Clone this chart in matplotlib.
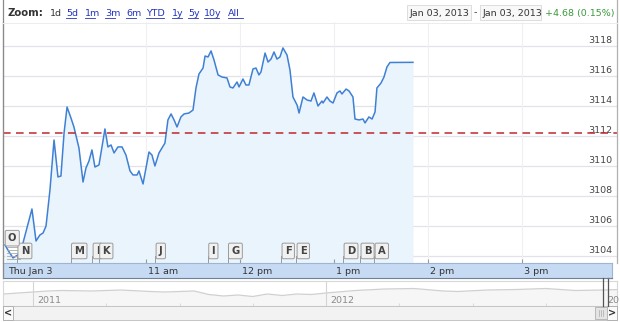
"""
Intraday index chart, Thu Jan 3 2013 (Google-Finance style widget).
"""
import matplotlib.pyplot as plt
from matplotlib.patches import Rectangle
import numpy as np

# ---------- data ----------
OPEN_HOUR = 9.5
minutes = [0, 2.6, 5.1, 8.3, 11.5, 17.2, 19.8, 22.3, 24.3, 26.2, 28.7, 31.3, 33.8,
           35.7, 37.7, 39.6, 42.1, 44.0, 47.2, 49.8, 51.7, 53.6, 55.5, 57.4, 60.0,
           63.8, 65.7, 67.7, 69.6, 72.1, 74.7, 77.2, 79.8, 81.7, 84.3, 85.5, 88.1,
           91.9, 93.8, 95.7, 98.3, 102.1, 104.0, 106.0, 107.9, 109.8, 112.3, 114.3,
           117.4, 120.0, 121.9, 123.8, 126.4, 127.7, 129.6, 131.5, 133.4, 136.0,
           138.5, 141.7, 143.6, 145.5, 148.1, 149.4, 151.9, 153.8, 155.7, 158.3,
           160.2, 162.1, 163.4, 166.0, 167.9, 169.8, 171.7, 173.6, 175.5, 177.4,
           180.0, 181.9, 183.8, 186.4, 187.7, 190.2, 192.8, 195.3, 197.2, 199.8,
           202.3, 203.0, 205.5, 207.4, 209.4, 211.9, 213.8, 215.1, 217.7, 219.6,
           222.1, 223.4, 226.0, 228.5, 229.8, 232.3, 234.3, 236.2, 237.4, 240.0,
           241.9, 243.8, 245.7, 260.4]
prices = [3104.73, 3104.27, 3103.87, 3104.07, 3104.87, 3107.13, 3105.00, 3105.40,
          3105.53, 3106.00, 3108.40, 3111.73, 3109.27, 3109.33, 3112.20, 3113.93,
          3113.20, 3112.60, 3111.20, 3108.93, 3109.87, 3110.33, 3111.07, 3109.93,
          3110.07, 3112.47, 3111.27, 3111.40, 3110.87, 3111.27, 3111.27, 3110.73,
          3109.67, 3109.40, 3109.40, 3109.67, 3108.80, 3110.93, 3110.73, 3110.00,
          3110.87, 3111.53, 3113.07, 3113.47, 3113.07, 3112.60, 3113.27, 3113.47,
          3113.53, 3113.73, 3115.20, 3116.13, 3116.53, 3117.33, 3117.27, 3117.67,
          3117.07, 3116.07, 3115.93, 3115.87, 3115.27, 3115.20, 3115.60, 3115.27,
          3115.80, 3115.40, 3115.40, 3116.47, 3116.53, 3116.07, 3116.27, 3117.53,
          3116.93, 3117.13, 3117.60, 3117.13, 3117.27, 3117.87, 3117.40, 3116.40,
          3114.60, 3114.07, 3113.53, 3114.60, 3114.40, 3114.33, 3114.87, 3114.00,
          3114.33, 3114.20, 3114.60, 3114.33, 3114.20, 3114.87, 3115.00, 3114.80,
          3115.13, 3115.00, 3114.60, 3113.13, 3113.07, 3113.13, 3112.87, 3113.27,
          3113.13, 3113.60, 3115.20, 3115.53, 3115.93, 3116.60, 3116.90, 3116.91]
prev_close = 3112.23

y_ticks = [3104, 3106, 3108, 3110, 3112, 3114, 3116, 3118]
hour_ticks = [11, 12, 13, 14, 15]
hour_labels = ["11 am", "12 pm", "1 pm", "2 pm", "3 pm"]

flag_letters = ["N", "M", "I", "K", "J", "I", "G", "F", "E", "D", "B", "A"]
flag_hours = [9.63, 10.20, 10.43, 10.50, 11.10, 11.66, 11.87, 12.44, 12.60,
              13.10, 13.28, 13.43]

zoom_links = ["5d", "1m", "3m", "6m", "YTD", "1y", "5y", "10y", "All"]
zoom_x = [66, 85, 105, 126, 146, 172, 188, 204, 228]

# navigator (two-year overview)
nav_years = [2010.90, 2010.95, 2011.00, 2011.05, 2011.10, 2011.20, 2011.30, 2011.40,
             2011.45, 2011.55, 2011.60, 2011.65, 2011.70, 2011.75, 2011.80, 2011.85,
             2011.90, 2011.95, 2012.00, 2012.10, 2012.20, 2012.30, 2012.40, 2012.45,
             2012.55, 2012.65, 2012.75, 2012.85, 2012.95, 2013.00]
nav_close = [2840, 2910, 2980, 3050, 3085, 3050, 3120, 3015, 2980, 3050, 2805, 2700,
             2770, 2665, 2840, 2735, 2840, 2805, 2910, 3085, 3190, 3225, 3050, 3015,
             3120, 3155, 3225, 3085, 3120, 3155]

# ---------- styling ----------
W, H = 620, 322
LINE = "#3f80d4"
FILL = "#eaf4fd"
GRID = "#e2e2ea"
TXT = "#333333"
plt.rcParams["font.family"] = "DejaVu Sans"


def fig_rect(x0, y0, x1, y1):
    """pixel box (top-left origin) -> figure fraction rect"""
    return [x0 / W, 1 - y1 / H, (x1 - x0) / W, (y1 - y0) / H]


fig = plt.figure(figsize=(W / 100, H / 100), dpi=100)

# ---------- main price panel ----------
ax = fig.add_axes(fig_rect(3, 22, 617, 263))
hours = [OPEN_HOUR + m / 60 for m in minutes]
x_lo, x_hi = OPEN_HOUR - 2 / 94, OPEN_HOUR + 612 / 94
y_lo, y_hi = 3103.53, 3119.6
ax.set_xlim(x_lo, x_hi)
ax.set_ylim(y_lo, y_hi)

for v in y_ticks:
    ax.axhline(v, color=GRID, lw=0.9, zorder=0)
    ax.text(0.992, v + 0.07, str(v), transform=ax.get_yaxis_transform(),
            ha="right", va="bottom", fontsize=6.8, color="#444444")
for h in hour_ticks:
    ax.axvline(h, color="#f0f0f4", lw=0.8, zorder=0)

ax.fill_between(hours, prices, y_lo, color=FILL, lw=0, zorder=1)
ax.plot(hours, prices, color=LINE, lw=1.1, zorder=3)
ax.axhline(prev_close, color="#c0272d", lw=1.1, ls=(0, (5, 3.5)), zorder=4)

ax.set_xticks(hour_ticks)
ax.tick_params(axis="x", direction="in", length=3, width=0.8, color="#999999",
               labelbottom=False)
ax.set_yticks([])
for s in ["top", "right", "bottom"]:
    ax.spines[s].set_visible(False)
ax.spines["left"].set_color("#777777")

# news flags
xt = ax.get_xaxis_transform()
flag_box = dict(boxstyle="round,pad=0.28,rounding_size=0.15", fc="#f1f1f1",
                ec="#9a9a9a", lw=0.7)
for letter, h in zip(flag_letters, flag_hours):
    ax.plot([h, h], [0, 0.03], color="#9a9a9a", lw=0.7, transform=xt, zorder=5)
    ax.annotate(letter, xy=(h, 0.05), xycoords=xt, xytext=(3.5, 0),
                textcoords="offset pixels", ha="left", va="center",
                fontsize=7.2, fontweight="bold", color="#444444",
                bbox=flag_box, zorder=6)
# stacked "O" flag at the open
ax.annotate("O", xy=(OPEN_HOUR, 0.103), xycoords=xt, xytext=(3, 0),
            textcoords="offset pixels", ha="left", va="center", fontsize=7.2,
            fontweight="bold", color="#444444", bbox=flag_box, zorder=7)
for k in range(5):
    ax.plot([OPEN_HOUR + 2 / 94, OPEN_HOUR + 15 / 94], [0.018 + k * 0.012] * 2,
            color="#a8a8a8", lw=0.6, transform=xt, zorder=5)

# ---------- time axis bar ----------
axb = fig.add_axes(fig_rect(3, 263, 612, 278))
axb.set_xlim(x_lo, x_lo + (612 - 3) / 94)
axb.set_ylim(0, 1)
axb.set_facecolor("#c6dbf3")
axb.set_xticks([])
axb.set_yticks([])
for s in axb.spines.values():
    s.set_color("#9db4d2")
    s.set_linewidth(0.8)
axb.spines["bottom"].set_color("#6f7f95")
axb.text(OPEN_HOUR + 3 / 94, 0.45, "Thu Jan 3", fontsize=6.8, color=TXT, va="center")
for h, lab in zip(hour_ticks, hour_labels):
    axb.text(h + 2 / 94, 0.45, lab, fontsize=6.8, color=TXT, va="center")

# ---------- navigator ----------
axn = fig.add_axes(fig_rect(3, 281, 617, 306))
axn.set_xlim(2011 - 30 / 293, 2011 + 584 / 293)
axn.set_ylim(2000, 3750)
axn.fill_between(nav_years, nav_close, 2000, color="#f6f6f6", lw=0)
axn.plot(nav_years, nav_close, color="#d0d0d0", lw=0.9)
for yr in [2011, 2012]:
    axn.axvline(yr, color="#d4d4d4", lw=0.8)
    axn.text(yr + 4 / 293, 0.22, str(yr), transform=axn.get_xaxis_transform(),
             fontsize=6.8, color="#8a8a8a", va="center")
axn.text(2013 - 12 / 293, 0.22, "20", transform=axn.get_xaxis_transform(),
         fontsize=6.8, color="#8a8a8a", va="center")
axn.set_xticks([2011.25, 2011.5, 2011.75, 2012.25, 2012.5, 2012.75])
axn.tick_params(axis="x", direction="in", length=2, color="#dddddd", labelbottom=False)
axn.set_yticks([])
for s in axn.spines.values():
    s.set_color("#d8d8d8")
    s.set_linewidth(0.8)

# ---------- overlay: header, borders, scrollbar ----------
ov = fig.add_axes([0, 0, 1, 1], zorder=10)
ov.set_xlim(0, W)
ov.set_ylim(H, 0)
ov.axis("off")
ov.patch.set_visible(False)

ov.plot([3, 3], [0, 278], color="#8a8a8a", lw=0.9)
ov.plot([617, 617], [0, 263], color="#b0b0b0", lw=0.9)
ov.plot([3, 617], [23, 23], color="#ececec", lw=0.7)

ov.text(8, 13, "Zoom:", fontsize=7.3, fontweight="bold", color=TXT, va="center")
ov.text(50, 13, "1d", fontsize=6.8, color=TXT, va="center")
for lab, x in zip(zoom_links, zoom_x):
    t = ov.text(x, 13, lab, fontsize=6.8, color="#2233bb", va="center")
    w = len(lab) * 4.9 if lab != "YTD" else 18
    ov.plot([x, x + w], [17.5, 17.5], color="#2233bb", lw=0.6)

for x0, x1 in [(407, 471), (480, 541)]:
    ov.add_patch(Rectangle((x0, 5), x1 - x0, 15, fc="#f8f8f8", ec="#dddddd", lw=0.7))
    ov.text(x0 + 3, 13, "Jan 03, 2013", fontsize=6.8, color=TXT, va="center")
ov.text(474, 13, "-", fontsize=6.8, color=TXT, va="center")
ov.text(545, 13, "+4.68 (0.15%)", fontsize=6.8, color="#3a9a3a", va="center")

# scrollbar
ov.add_patch(Rectangle((3, 306), 614, 14, fc="#f2f2f2", ec="#c4c4c4", lw=0.7))
ov.add_patch(Rectangle((3, 306), 10, 14, fc="#fafafa", ec="#b0b0b0", lw=0.7))
ov.text(8, 313.5, "<", fontsize=7, fontweight="bold", color="#333333",
        ha="center", va="center")
ov.add_patch(Rectangle((607, 306), 10, 14, fc="#fafafa", ec="#b0b0b0", lw=0.7))
ov.text(612, 313.5, ">", fontsize=7, fontweight="bold", color="#333333",
        ha="center", va="center")
ov.add_patch(Rectangle((595, 307), 12, 12, fc="#e4e4e4", ec="#b8b8b8", lw=0.7))
for x in [599, 601, 603]:
    ov.plot([x, x], [310, 316], color="#aaaaaa", lw=0.5)

# selected-range handles
ov.plot([603, 603], [278, 306], color="#555555", lw=0.9)
ov.plot([608, 608], [278, 306], color="#555555", lw=0.9)
ov.plot([608, 612], [278, 278], color="#6f7f95", lw=0.8)

fig.savefig("out.png", dpi=100)
